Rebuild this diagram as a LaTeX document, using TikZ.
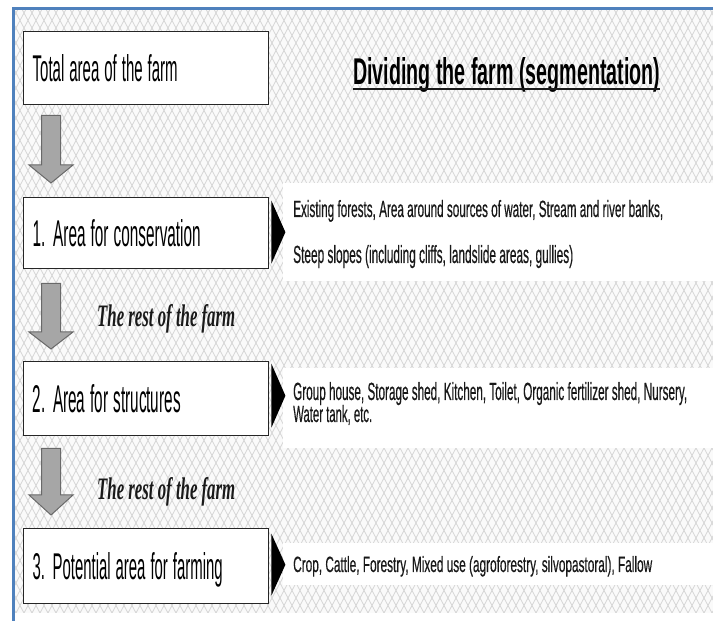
\documentclass[tikz,border=0pt]{standalone}
\usepackage{fontspec}
\setmainfont{Liberation Sans}
\newfontfamily\restfont{Liberation Serif}
\newfontfamily\descfont[FakeBold=0.6]{Liberation Sans}
\usetikzlibrary{calc}
\definecolor{frameblue}{RGB}{79,129,189}
\definecolor{arrfill}{RGB}{166,166,166}
\definecolor{arrline}{RGB}{105,105,105}
\newcommand\fitt[3]{\resizebox{#1pt}{#2pt}{#3}}
\begin{document}
\begin{tikzpicture}[x=1pt,y=1pt,
  patline/.style={black!16, line width=0.8pt},
  areabox/.style={draw=black!85, line width=1.4pt, fill=white, minimum width=245pt,
    anchor=north west, inner sep=0pt, text height=27pt, text depth=0pt,
    align=left, text width=227pt},
  desc/.style={anchor=base west, inner sep=0pt, text=black!90, font=\descfont},
  restlbl/.style={anchor=base west, inner sep=0pt, text=black!90},
  blockarr/.style={fill=arrfill, draw=arrline, line width=1pt, line join=miter},
  marker/.style={fill=black}
]
\useasboundingbox (0,0) rectangle (713,621);
\fill[white] (0,0) rectangle (713,621);
% lattice background
\begin{scope}
  \clip (15,8) rectangle (713,611);
  \fill[black!2] (15,8) rectangle (713,611);
  \foreach \k in {-42,...,131} {
    \draw[patline] (\k*8,8) -- (\k*8+321.6,611);
    \draw[patline] (\k*8,8) -- (\k*8-321.6,611);
  }
\end{scope}
% white bands behind descriptions
\fill[white] (283,340) rectangle (713,438);
\fill[white] (283,173) rectangle (713,253);
\fill[white] (283,36) rectangle (713,78);
% frame lines
\draw[frameblue, line width=3pt] (12,612.5) -- (713,612.5);
\draw[frameblue, line width=3pt] (13.5,0) -- (13.5,614);

% boxes
\node[areabox, minimum height=73pt] (b0) at (23,590) {\fitt{145}{27}{Total area of the farm}};
\node[areabox, minimum height=71pt] (b1) at (23,424) {\fitt{168}{27}{1. Area for conservation}};
\node[areabox, minimum height=74pt] (b2) at (23,260) {\fitt{148}{28}{2. Area for structures}};
\node[areabox, minimum height=75pt] (b3) at (23,93) {\fitt{190}{27}{3. Potential area for farming}};

% title
\node[anchor=base west, inner sep=0pt] (title) at (353,536) {\fitt{307}{27}{\bfseries Dividing the farm  (segmentation)}};
\draw[line width=2pt, black!90] ($(title.base west)+(0,-4)$) -- ($(title.base east)+(0,-4)$);

% block arrows
\draw[blockarr] ($(b0.south west)+(18.5,-10)$) -- ($(b0.south west)+(37.5,-10)$)
  -- ($(b1.north west)+(37.5,32)$) -- ($(b1.north west)+(50,32)$)
  -- ($(b1.north west)+(28,14)$) -- ($(b1.north west)+(6,32)$)
  -- ($(b1.north west)+(18.5,32)$) -- cycle;
\draw[blockarr] ($(b1.south west)+(18.5,-14)$) -- ($(b1.south west)+(37.5,-14)$)
  -- ($(b2.north west)+(37.5,29)$) -- ($(b2.north west)+(50,29)$)
  -- ($(b2.north west)+(28,12)$) -- ($(b2.north west)+(6,29)$)
  -- ($(b2.north west)+(18.5,29)$) -- cycle;
\draw[blockarr] ($(b2.south west)+(18.5,-12)$) -- ($(b2.south west)+(37.5,-12)$)
  -- ($(b3.north west)+(37.5,33)$) -- ($(b3.north west)+(50,33)$)
  -- ($(b3.north west)+(28,13)$) -- ($(b3.north west)+(6,33)$)
  -- ($(b3.north west)+(18.5,33)$) -- cycle;

% rest labels
\node[restlbl] (r1) at (97,294) {\fitt{138}{22}{\restfont\bfseries\itshape The rest of the farm}};
\node[restlbl] (r2) at (97,121) {\fitt{138}{22}{\restfont\bfseries\itshape The rest of the farm}};

% markers
\fill[marker] ($(b1.east)+(2,-30.5)$) -- ($(b1.east)+(16,1)$) -- ($(b1.east)+(2,32.5)$) -- cycle;
\fill[marker] ($(b2.east)+(2,-29)$) -- ($(b2.east)+(16,3)$) -- ($(b2.east)+(2,35)$) -- cycle;
\fill[marker] ($(b3.east)+(2,-29.5)$) -- ($(b3.east)+(16,1.5)$) -- ($(b3.east)+(2,32.5)$) -- cycle;

% descriptions
\node[desc] (d1a) at (293,404) {\fitt{370}{17}{Existing forests,  Area around sources of water, Stream and river banks,}};
\node[desc] (d1b) at (293,358) {\fitt{280}{18}{Steep slopes (including cliffs, landslide areas, gullies)}};
\node[desc] (d2a) at (293,221) {\fitt{394}{18}{Group house, Storage shed, Kitchen, Toilet, Organic fertilizer shed, Nursery,}};
\node[desc] (d2b) at (293,199) {\fitt{79}{17}{Water tank, etc.}};
\node[desc] (d3) at (293,49) {\fitt{359}{16}{Crop, Cattle, Forestry, Mixed use (agroforestry, silvopastoral), Fallow}};
\end{tikzpicture}
\end{document}
